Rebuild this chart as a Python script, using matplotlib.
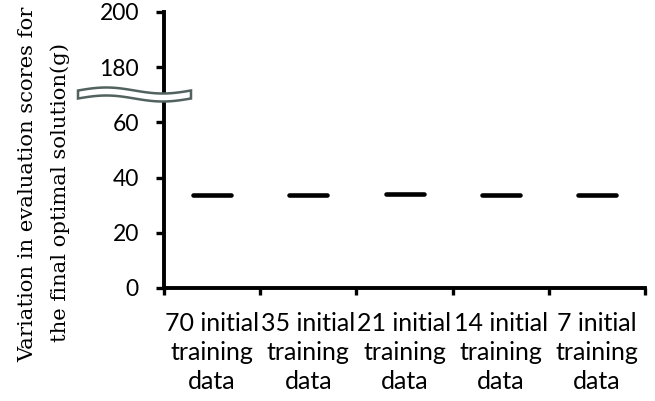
import numpy as np
import matplotlib
matplotlib.use("Agg")
import matplotlib.pyplot as plt
from matplotlib.markers import MarkerStyle
from matplotlib.patches import Polygon
from matplotlib.transforms import IdentityTransform

categories = ["70 initial\ntraining\ndata", "35 initial\ntraining\ndata",
              "21 initial\ntraining\ndata", "14 initial\ntraining\ndata",
              "7 initial\ntraining\ndata"]
values = [33.7, 33.7, 34.0, 33.7, 33.7]
ytick_pos = [0, 20, 40, 60, 80, 100]
ytick_labels = ["0", "20", "40", "60", "180", "200"]
ylabel_lines = ["Variation in evaluation scores for", "the final optimal solution(g)"]

W, H = 655, 401
fig = plt.figure(figsize=(W / 100, H / 100), dpi=100)
ax = fig.add_axes([164 / W, 1 - 288 / H, (645 - 164) / W, (288 - 12) / H])

x = np.arange(len(categories))
ax.plot(x, values, linestyle="none",
        marker=MarkerStyle("_", capstyle="round"),
        markersize=28, markeredgewidth=3.3, color="black")

ax.set_xlim(-0.5, len(categories) - 0.5)
ax.set_ylim(0, 100)
ax.set_yticks(ytick_pos)
ax.set_yticklabels(ytick_labels, fontfamily="Lato", fontsize=16.5)
ax.set_xticks(x)
ax.set_xticklabels(categories, fontfamily="Lato", fontsize=18, linespacing=1.32)
ax.set_xticks(np.arange(len(categories) + 1) - 0.5, minor=True)
ax.tick_params(axis="x", which="major", length=0, pad=17)
ax.tick_params(axis="x", which="minor", length=5, width=2.4, direction="out")
ax.tick_params(axis="y", length=6, width=2.4, direction="out", pad=12)

for s in ["top", "right"]:
    ax.spines[s].set_visible(False)
for s in ["left", "bottom"]:
    ax.spines[s].set_linewidth(2.8)

# y-axis title, two rotated lines
fig.text(33 / W, 1 - 184 / H, ylabel_lines[0], rotation=90, rotation_mode="anchor",
         ha="center", va="baseline", fontfamily="DejaVu Serif", fontsize=15.2)
fig.text(66 / W, 1 - 192 / H, ylabel_lines[1], rotation=90, rotation_mode="anchor",
         ha="center", va="baseline", fontfamily="DejaVu Serif", fontsize=15.2)

# axis break symbol (figure pixel coordinates)
t = np.linspace(0, 1, 80)
xs = 78 + 113 * t
yc = 94.5 - 3.0 * np.sin(2 * np.pi * t)
top = np.column_stack([xs, H - (yc - 4.0)])
bot = np.column_stack([xs[::-1], H - (yc[::-1] + 4.0)])
poly = Polygon(np.vstack([top, bot]), closed=True, facecolor="white",
               edgecolor="#52625f", linewidth=1.8)
poly.set_transform(IdentityTransform())
poly.set_figure(fig)
fig.patches.append(poly)

fig.savefig("out.png", dpi=100)
